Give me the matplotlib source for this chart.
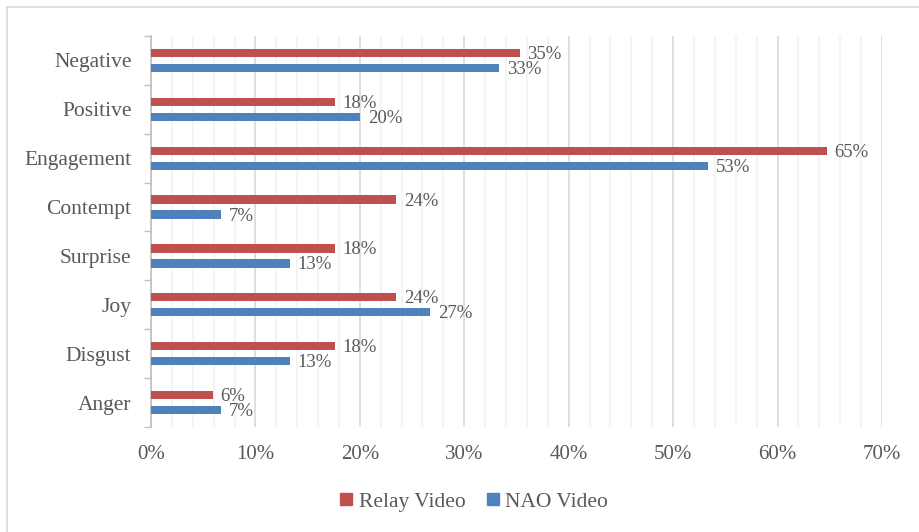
import numpy as np
import matplotlib.pyplot as plt
from matplotlib.lines import Line2D
from matplotlib.ticker import MultipleLocator, PercentFormatter

# emotion categories, top to bottom as shown
categories = ['Negative', 'Positive', 'Engagement', 'Contempt',
              'Surprise', 'Joy', 'Disgust', 'Anger']
relay_video = [35.3, 17.6, 64.7, 23.5, 17.6, 23.5, 17.6, 5.9]
nao_video = [33.3, 20.0, 53.3, 6.7, 13.3, 26.7, 13.3, 6.7]

red = '#C0504D'
blue = '#4F81BD'
text_col = '#595959'

plt.rcParams['font.family'] = ['Liberation Serif', 'DejaVu Serif']

fig = plt.figure(figsize=(9.2, 5.32), dpi=100)
ax = fig.add_axes([0.1641, 0.1974, 0.7946, 0.7349])

y = np.arange(len(categories))[::-1]
off = 0.153
h = 0.17
ax.barh(y + off, relay_video, height=h, color=red, label='Relay Video', zorder=3)
ax.barh(y - off, nao_video, height=h, color=blue, label='NAO Video', zorder=3)

for yi, r, n in zip(y, relay_video, nao_video):
    ax.text(r + 0.75, yi + off - 0.03, f'{r:.0f}%', va='center', ha='left',
            fontsize=13.5, color=text_col)
    ax.text(n + 0.75, yi - off - 0.03, f'{n:.0f}%', va='center', ha='left',
            fontsize=13.5, color=text_col)

ax.set_xlim(0, 70)
ax.set_ylim(-0.5, len(categories) - 0.5)
ax.xaxis.set_major_locator(MultipleLocator(10))
ax.xaxis.set_minor_locator(MultipleLocator(2))
ax.xaxis.set_major_formatter(PercentFormatter(decimals=0))
ax.grid(axis='x', which='major', color='#D9D9D9', lw=1.2, zorder=0)
ax.grid(axis='x', which='minor', color='#F2F2F2', lw=1.2, zorder=0)

ax.set_yticks(y)
ax.set_yticklabels(categories)
ax.set_yticks(np.arange(-0.5, len(categories), 1), minor=True)
ax.tick_params(axis='y', which='major', length=0, pad=14, labelsize=15.5, labelcolor=text_col)
ax.tick_params(axis='y', which='minor', length=5, color='#BFBFBF', width=1)
ax.tick_params(axis='x', which='both', length=0, pad=13, labelsize=15, labelcolor=text_col)

for s in ['top', 'right', 'bottom']:
    ax.spines[s].set_visible(False)
ax.spines['left'].set_color('#BFBFBF')
ax.spines['left'].set_linewidth(1.2)

handles = [Line2D([], [], marker='s', ls='', color=red, markersize=8),
           Line2D([], [], marker='s', ls='', color=blue, markersize=8)]
fig.legend(handles, ['Relay Video', 'NAO Video'], loc='center',
           bbox_to_anchor=(0.514, 0.057), ncol=2, frameon=False,
           fontsize=15.5, labelcolor=text_col, handletextpad=0.2,
           columnspacing=0.85, handlelength=0.8)

# chart area border
fig.add_artist(Line2D([7 / 920, 7 / 920], [0, 1 - 7 / 532], transform=fig.transFigure,
                      color='#D9D9D9', lw=1.2))
fig.add_artist(Line2D([7 / 920, 1], [1 - 7 / 532, 1 - 7 / 532], transform=fig.transFigure,
                      color='#D9D9D9', lw=1.2))

fig.savefig('out.png', dpi=100)
